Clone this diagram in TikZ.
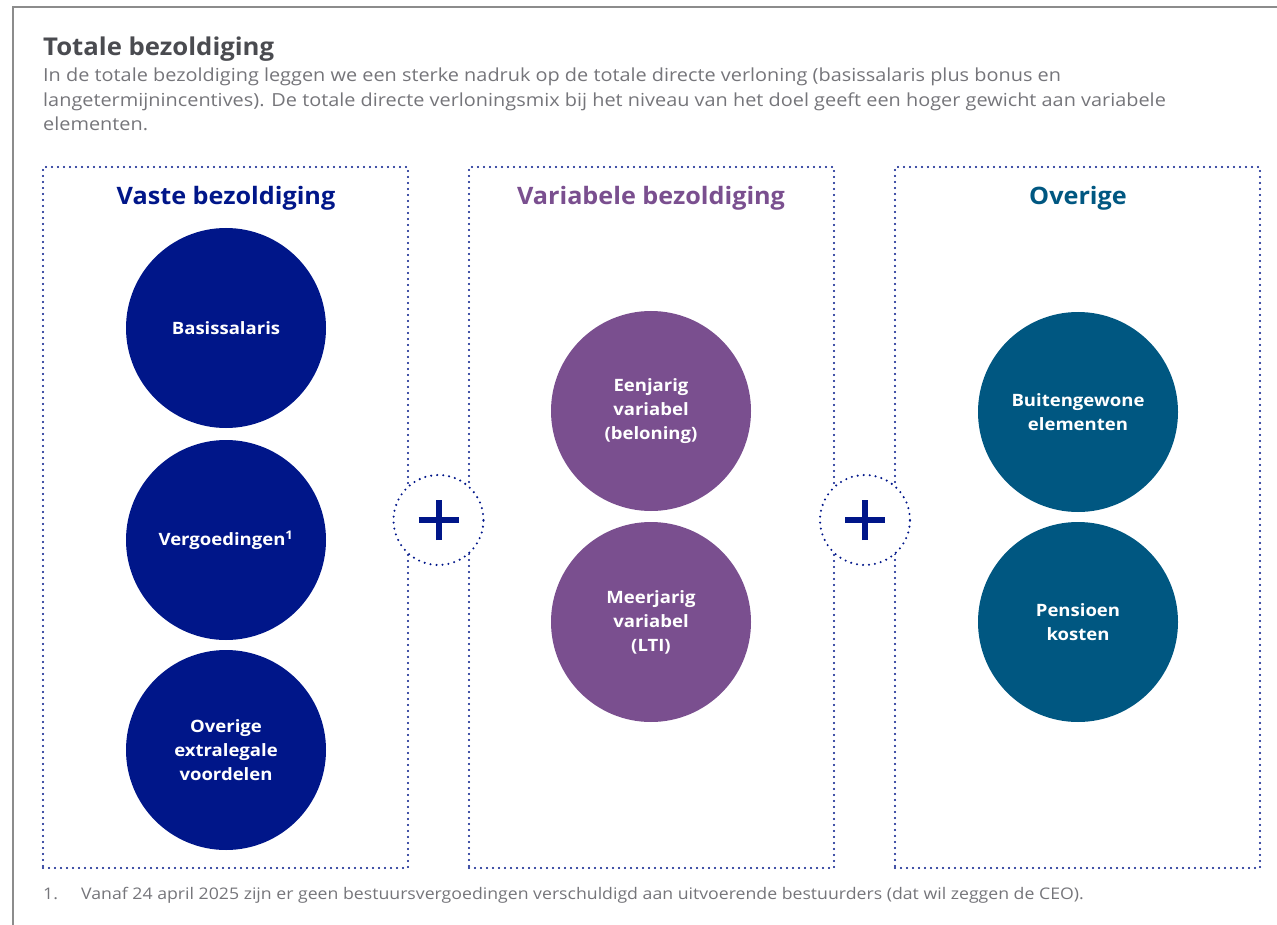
\documentclass[tikz,border=0pt]{standalone}
\usepackage{fontspec}
\setmainfont{Open Sans}
\newfontfamily\bodyfont{Open Sans}[FakeStretch=1.105]
\newfontfamily\kopfont{Open Sans}[FakeStretch=1.05]
\newfontfamily\bubblefont{Open Sans}[FakeStretch=1.09]
\usetikzlibrary{positioning}

\definecolor{vastblue}{HTML}{001689}
\definecolor{varpurple}{HTML}{7A4F8F}
\definecolor{overteal}{HTML}{005781}
\definecolor{titlegrey}{HTML}{4A4B50}
\definecolor{textgrey}{HTML}{75757A}
\definecolor{framegrey}{HTML}{8C8C8C}

\begin{document}
\begin{tikzpicture}[
		x=1pt, y=-1pt,
		panelbox/.style={draw=vastblue, line width=2.3pt, line cap=round,
			dash pattern=on 0pt off 6pt, minimum width=365pt, minimum height=701pt,
			inner sep=0pt},
		header/.style={font=\kopfont\fontsize{24}{30}\selectfont\bfseries, anchor=base},
		bubble/.style={circle, minimum size=200pt, inner sep=0pt, text=white,
			align=center, font=\bubblefont\fontsize{17}{24}\selectfont\bfseries},
		plusring/.style={circle, draw=vastblue, line width=2.3pt, line cap=round,
			dash pattern=on 0pt off 6pt, minimum size=90pt, inner sep=0pt, fill=white},
		plusbar/.style={vastblue, line width=6pt},
		body/.style={font=\bodyfont\fontsize{18}{24.5}\selectfont, text=textgrey,
			anchor=base west, inner sep=0pt},
	]
	\useasboundingbox (0,0) rectangle (1277,925);

	% ---------- page frame ----------
	\draw[framegrey, line width=1.2pt] (13,925) -- (13,7) -- (1277,7);

	% ---------- heading and introduction ----------
	\node[anchor=base west, inner sep=0pt, text=titlegrey,
		font=\kopfont\fontsize{24.5}{30}\selectfont\bfseries] (titel) at (43,56) {Totale bezoldiging};
	\node[body] (intro1) at (43,82)
	{In de totale bezoldiging leggen we een sterke nadruk op de totale directe verloning (basissalaris plus bonus en};
	\node[body] (intro2) at (43,106.5)
	{langetermijnincentives). De totale directe verloningsmix bij het niveau van het doel geeft een hoger gewicht aan variabele};
	\node[body] (intro3) at (43,131) {elementen.};

	% ---------- panel: vaste bezoldiging ----------
	\node[panelbox] (vast) at (225.5,517.5) {};
	\node[header, text=vastblue] (vastkop) at (226,205) {Vaste bezoldiging};
	\node[bubble, fill=vastblue] (basis) at (226,328) {Basissalaris};
	\node[bubble, fill=vastblue] (vergoed) at (226,540) {Vergoedingen\textsuperscript{1}};
	\node[bubble, fill=vastblue] (extra) at (226,750) {Overige\\extralegale\\voordelen};

	% ---------- panel: variabele bezoldiging ----------
	\node[panelbox] (variabel) at (651.5,517.5) {};
	\node[header, text=varpurple] (varkop) at (651,205) {Variabele bezoldiging};
	\node[bubble, fill=varpurple] (eenjarig) at (651,411) {Eenjarig\\variabel\\(beloning)};
	\node[bubble, fill=varpurple] (meerjarig) at (651,622) {Meerjarig\\variabel\\(LTI)};

	% ---------- panel: overige ----------
	\node[panelbox] (overig) at (1077.5,517.5) {};
	\node[header, text=overteal] (overkop) at (1078,205) {Overige};
	\node[bubble, fill=overteal] (buiten) at (1078,412) {Buitengewone\\elementen};
	\node[bubble, fill=overteal] (pensioen) at (1078,622) {Pensioen\\kosten};

	% ---------- plus signs ----------
	\node[plusring] (plusa) at (438.5,520) {};
	\node[plusring] (plusb) at (865,520) {};
	\foreach \p in {plusa,plusb} {
		\draw[plusbar] ([xshift=-20pt]\p.center) -- ([xshift=20pt]\p.center);
		\draw[plusbar] ([yshift=-20pt]\p.center) -- ([yshift=20pt]\p.center);
	}

	% ---------- footnote ----------
	\node[body, font=\bodyfont\fontsize{16}{20}\selectfont] (noot) at (43,899) {1.};
	\node[body, font=\bodyfont\fontsize{16}{20}\selectfont] (noottekst) at (81,899)
	{Vanaf 24 april 2025 zijn er geen bestuursvergoedingen verschuldigd aan uitvoerende bestuurders (dat wil zeggen de CEO).};

\end{tikzpicture}
\end{document}
